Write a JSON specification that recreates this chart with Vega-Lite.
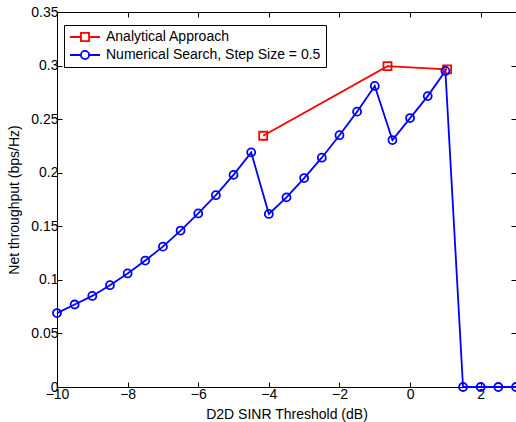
{
  "$schema": "https://vega.github.io/schema/vega-lite/v6.json",
  "autosize": "none",
  "width": 459,
  "height": 375,
  "padding": {"left": 57, "top": 12, "right": 0, "bottom": 35},
  "data": {"values": [
    {"series": "Analytical Approach", "x": -4.16, "y": 0.2345},
    {"series": "Analytical Approach", "x": -0.64, "y": 0.2995},
    {"series": "Analytical Approach", "x": 1.05, "y": 0.2965},
    {"series": "Numerical Search, Step Size = 0.5", "x": -10, "y": 0.069},
    {"series": "Numerical Search, Step Size = 0.5", "x": -9.5, "y": 0.077},
    {"series": "Numerical Search, Step Size = 0.5", "x": -9, "y": 0.085},
    {"series": "Numerical Search, Step Size = 0.5", "x": -8.5, "y": 0.095},
    {"series": "Numerical Search, Step Size = 0.5", "x": -8, "y": 0.106},
    {"series": "Numerical Search, Step Size = 0.5", "x": -7.5, "y": 0.118},
    {"series": "Numerical Search, Step Size = 0.5", "x": -7, "y": 0.131},
    {"series": "Numerical Search, Step Size = 0.5", "x": -6.5, "y": 0.146},
    {"series": "Numerical Search, Step Size = 0.5", "x": -6, "y": 0.162},
    {"series": "Numerical Search, Step Size = 0.5", "x": -5.5, "y": 0.179},
    {"series": "Numerical Search, Step Size = 0.5", "x": -5, "y": 0.198},
    {"series": "Numerical Search, Step Size = 0.5", "x": -4.5, "y": 0.219},
    {"series": "Numerical Search, Step Size = 0.5", "x": -4, "y": 0.1615},
    {"series": "Numerical Search, Step Size = 0.5", "x": -3.5, "y": 0.177},
    {"series": "Numerical Search, Step Size = 0.5", "x": -3, "y": 0.195},
    {"series": "Numerical Search, Step Size = 0.5", "x": -2.5, "y": 0.214},
    {"series": "Numerical Search, Step Size = 0.5", "x": -2, "y": 0.235},
    {"series": "Numerical Search, Step Size = 0.5", "x": -1.5, "y": 0.257},
    {"series": "Numerical Search, Step Size = 0.5", "x": -1, "y": 0.281},
    {"series": "Numerical Search, Step Size = 0.5", "x": -0.5, "y": 0.2305},
    {"series": "Numerical Search, Step Size = 0.5", "x": 0, "y": 0.251},
    {"series": "Numerical Search, Step Size = 0.5", "x": 0.5, "y": 0.2715},
    {"series": "Numerical Search, Step Size = 0.5", "x": 1, "y": 0.295},
    {"series": "Numerical Search, Step Size = 0.5", "x": 1.5, "y": 0},
    {"series": "Numerical Search, Step Size = 0.5", "x": 2, "y": 0},
    {"series": "Numerical Search, Step Size = 0.5", "x": 2.5, "y": 0},
    {"series": "Numerical Search, Step Size = 0.5", "x": 3, "y": 0}
  ]},
  "config": {
    "view": {"stroke": null},
    "font": "Liberation Sans",
    "axis": {
      "grid": false,
      "domainColor": "#000000",
      "domainWidth": 1,
      "tickColor": "#000000",
      "tickSize": -5,
      "tickWidth": 1,
      "labelColor": "#000000",
      "labelFont": "Liberation Sans",
      "labelFontSize": 14,
      "titleFont": "Liberation Sans",
      "titleFontSize": 14,
      "titleFontWeight": "normal",
      "titleColor": "#000000"
    },
    "legend": {
      "labelFont": "Liberation Sans",
      "labelFontSize": 14,
      "labelColor": "#000000"
    }
  },
  "encoding": {
    "color": {
      "field": "series", "type": "nominal",
      "scale": {"domain": ["Analytical Approach", "Numerical Search, Step Size = 0.5"], "range": ["#ff0000", "#0000ff"]},
      "legend": {
        "title": null,
        "orient": "none",
        "legendX": 7,
        "legendY": 13,
        "fillColor": "#ffffff",
        "strokeColor": "#000000",
        "padding": 5,
        "rowPadding": 4,
        "clipHeight": 14,
        "symbolSize": 900,
        "symbolStrokeWidth": 1.8,
        "symbolFillColor": "transparent",
        "symbolOpacity": 1,
        "labelOffset": 5,
        "labelLimit": 400
      }
    }
  },
  "layer": [
    {
      "mark": {"type": "line", "strokeWidth": 1.8, "clip": false},
      "encoding": {
        "x": {
          "field": "x", "type": "quantitative",
          "scale": {"domain": [-10, 3], "nice": false, "zero": false},
          "axis": {"orient": "bottom", "title": "D2D SINR Threshold (dB)", "values": [-10, -8, -6, -4, -2, 0, 2], "labelPadding": 5, "titlePadding": 6, "labelFlush": false}
        },
        "y": {
          "field": "y", "type": "quantitative",
          "scale": {"domain": [0, 0.35], "nice": false, "zero": false},
          "axis": {"orient": "left", "title": "Net throughput (bps/Hz)", "values": [0, 0.05, 0.1, 0.15, 0.2, 0.25, 0.3, 0.35], "format": "~g", "labelPadding": 4, "titlePadding": 9, "labelFlush": false}
        }
      }
    },
    {
      "mark": {"type": "point", "filled": false, "size": 64, "opacity": 0, "clip": false},
      "encoding": {
        "x": {
          "field": "x", "type": "quantitative",
          "axis": {"orient": "top", "title": null, "labels": false, "values": [-10, -8, -6, -4, -2, 0, 2]}
        },
        "y": {
          "field": "y", "type": "quantitative",
          "axis": {"orient": "right", "title": null, "labels": false, "domain": false, "values": [0, 0.05, 0.1, 0.15, 0.2, 0.25, 0.3, 0.35]}
        },
        "shape": {
          "field": "series", "type": "nominal",
          "scale": {"domain": ["Analytical Approach", "Numerical Search, Step Size = 0.5"], "range": ["M-1,0H-0.27M0.27,0H1M-0.27,-0.27H0.27V0.27H-0.27Z", "M-1,0H-0.27M0.27,0H1M-0.27,0A0.27,0.27 0 1,0 0.27,0A0.27,0.27 0 1,0 -0.27,0"]},
          "legend": null
        }
      }
    },
    {
      "transform": [{"filter": "datum.series === 'Analytical Approach'"}],
      "mark": {"type": "square", "filled": false, "size": 64, "strokeWidth": 1.8, "opacity": 1, "clip": false},
      "encoding": {
        "x": {"field": "x", "type": "quantitative", "axis": null},
        "y": {"field": "y", "type": "quantitative", "axis": null}
      }
    },
    {
      "transform": [{"filter": "datum.series !== 'Analytical Approach'"}],
      "mark": {"type": "circle", "filled": false, "size": 64, "strokeWidth": 1.8, "opacity": 1, "clip": false},
      "encoding": {
        "x": {"field": "x", "type": "quantitative", "axis": null},
        "y": {"field": "y", "type": "quantitative", "axis": null}
      }
    }
  ],
  "resolve": {"axis": {"x": "independent", "y": "independent"}}
}
